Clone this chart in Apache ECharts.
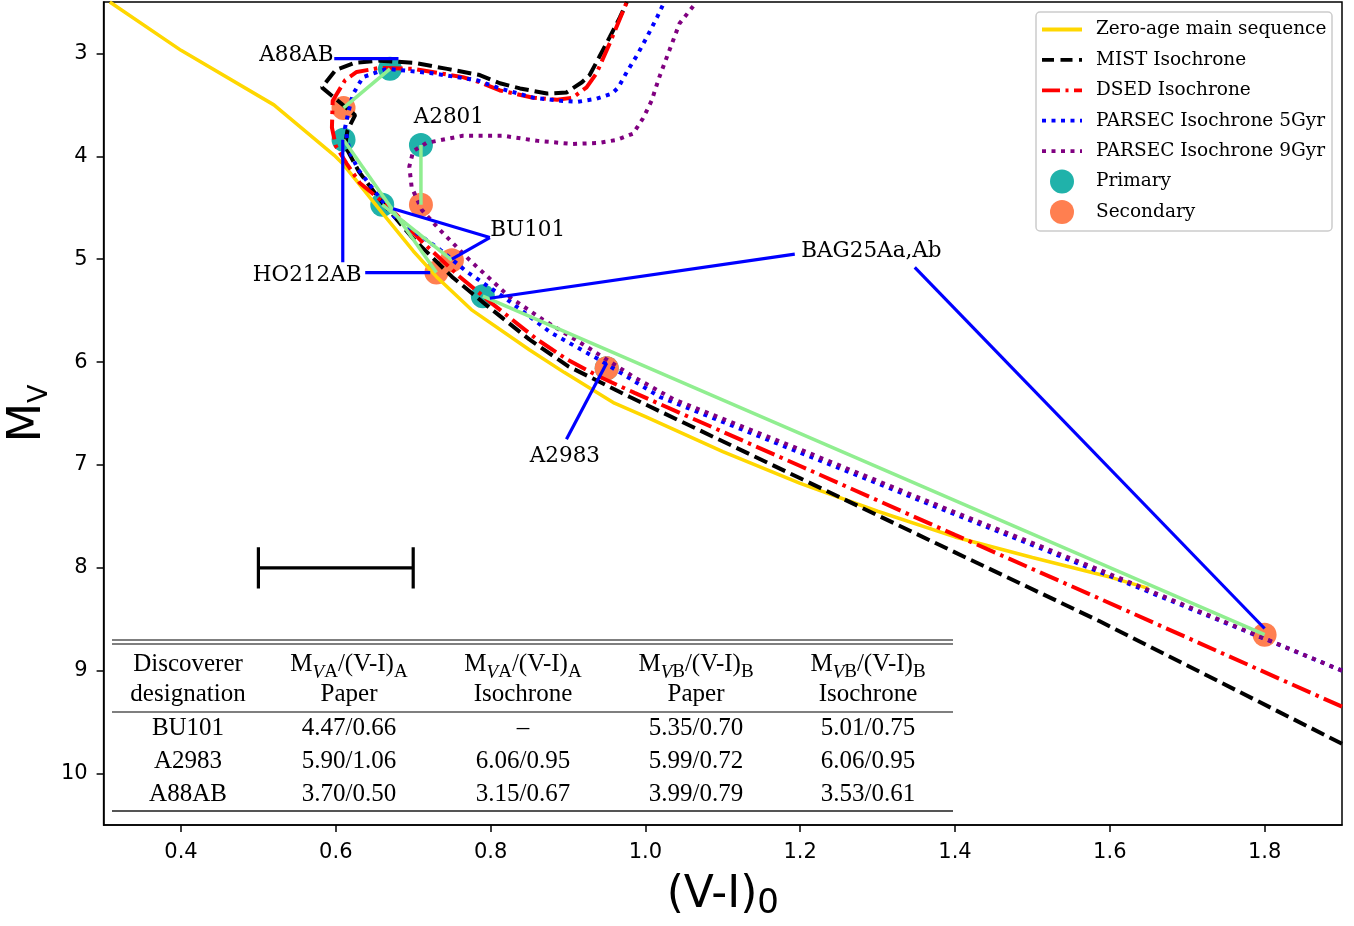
<!DOCTYPE html>
<html><head><meta charset="utf-8">
<script src="https://cdn.jsdelivr.net/npm/echarts@6.0.0/dist/echarts.min.js"></script>
<style>html,body{margin:0;padding:0;background:#fff}#c{width:1354px;height:926px}</style>
</head><body><div id="c"></div><script>
// ---------- data ----------
const xTicks = [0.4, 0.6, 0.8, 1.0, 1.2, 1.4, 1.6, 1.8];
const yTicks = [3, 4, 5, 6, 7, 8, 9, 10];

// binary components (order: A88AB, HO212AB, A2801, BU101, BAG25Aa,Ab, A2983)
const primaryVI   = [0.67, 0.61, 0.71, 0.66, 0.79, 0.95];
const primaryMV   = [3.15, 3.84, 3.89, 4.47, 5.36, 6.06];
const secondaryVI = [0.61, 0.73, 0.71, 0.75, 1.80, 0.95];
const secondaryMV = [3.53, 5.13, 4.47, 5.01, 8.65, 6.06];

const zamsVI = [0.308, 0.40, 0.52, 0.598, 0.61, 0.66, 0.70, 0.73, 0.775, 0.85, 0.895, 0.96, 1.00, 1.10, 1.20, 1.30, 1.40, 1.50, 1.60, 1.65];
const zamsMV = [2.50, 2.97, 3.50, 3.99, 4.08, 4.55, 4.92, 5.17, 5.49, 5.88, 6.10, 6.40, 6.53, 6.87, 7.18, 7.45, 7.70, 7.90, 8.09, 8.20];

const mistVI = [1.90, 1.587, 1.40, 1.20, 0.98, 0.90, 0.85, 0.80, 0.75, 0.70, 0.66, 0.63, 0.612, 0.615, 0.625, 0.582, 0.60, 0.625, 0.657, 0.70, 0.744, 0.786, 0.812, 0.838, 0.873, 0.898, 0.918, 0.928, 0.94, 0.954, 0.967, 0.976];
const mistMV = [9.71, 8.52, 7.85, 7.13, 6.34, 6.04, 5.78, 5.48, 5.17, 4.80, 4.45, 4.15, 3.90, 3.75, 3.60, 3.33, 3.16, 3.09, 3.07, 3.09, 3.15, 3.21, 3.29, 3.34, 3.39, 3.38, 3.28, 3.21, 3.04, 2.84, 2.65, 2.50];

const dsedVI = [1.90, 1.587, 1.40, 1.20, 0.986, 0.94, 0.90, 0.86, 0.80, 0.76, 0.71, 0.67, 0.631, 0.614, 0.60, 0.595, 0.596, 0.612, 0.627, 0.657, 0.70, 0.764, 0.786, 0.812, 0.855, 0.886, 0.906, 0.924, 0.937, 0.954, 0.976];
const dsedMV = [9.35, 8.30, 7.68, 7.01, 6.30, 6.14, 5.98, 5.78, 5.42, 5.17, 4.82, 4.50, 4.26, 4.07, 3.90, 3.72, 3.46, 3.26, 3.18, 3.14, 3.15, 3.23, 3.28, 3.36, 3.43, 3.45, 3.43, 3.33, 3.19, 2.90, 2.50];

const parsec5VI = [1.90, 1.80, 1.587, 1.40, 1.20, 1.019, 0.941, 0.877, 0.821, 0.769, 0.735, 0.676, 0.629, 0.618, 0.612, 0.616, 0.622, 0.635, 0.666, 0.722, 0.782, 0.812, 0.855, 0.89, 0.913, 0.937, 0.957, 0.965, 0.976, 0.989, 1.002, 1.015, 1.025];
const parsec5MV = [9.00, 8.69, 8.04, 7.48, 6.88, 6.34, 5.98, 5.71, 5.39, 5.12, 4.91, 4.59, 4.13, 3.96, 3.72, 3.58, 3.40, 3.23, 3.15, 3.19, 3.26, 3.34, 3.43, 3.46, 3.47, 3.44, 3.39, 3.33, 3.18, 3.02, 2.84, 2.65, 2.49];

const parsec9VI = [1.90, 1.587, 1.40, 1.20, 1.036, 0.984, 0.924, 0.868, 0.825, 0.773, 0.735, 0.711, 0.698, 0.695, 0.70, 0.717, 0.764, 0.816, 0.861, 0.906, 0.94, 0.963, 0.984, 0.997, 1.008, 1.018, 1.031, 1.044, 1.066];
const parsec9MV = [9.00, 8.02, 7.46, 6.85, 6.36, 6.14, 5.85, 5.59, 5.37, 5.01, 4.72, 4.52, 4.30, 4.10, 3.95, 3.87, 3.80, 3.80, 3.85, 3.88, 3.87, 3.84, 3.78, 3.63, 3.46, 3.23, 2.97, 2.71, 2.50];

// annotation labels
const annNames = ['A88AB', 'A2801', 'BU101', 'HO212AB', 'BAG25Aa,Ab', 'A2983'];
const annVI    = [0.549, 0.746, 0.848, 0.563, 1.292, 0.896];
const annMV    = [3.02, 3.62, 4.72, 5.16, 4.92, 6.92];
// annotation leader lines [start, end]
const leaderVI = [[0.598, 0.681], [0.609, 0.609], [0.638, 0.722], [0.799, 0.674], [0.799, 0.75], [1.193, 0.799], [1.348, 1.80], [0.898, 0.95]];
const leaderMV = [[3.05, 3.05], [5.03, 3.84], [5.13, 5.13], [4.79, 4.51], [4.79, 5.00], [4.95, 5.38], [5.08, 8.59], [6.75, 6.01]];

// error bar
const errVI = [0.5, 0.7];
const errMV = 8;
const errCap = [7.8, 8.2];

// table
const tableDesig  = ['BU101', 'A2983', 'A88AB'];
const tablePaperA = ['4.47/0.66', '5.90/1.06', '3.70/0.50'];
const tableIsoA   = ['–', '6.06/0.95', '3.15/0.67'];
const tablePaperB = ['5.35/0.70', '5.99/0.72', '3.99/0.79'];
const tableIsoB   = ['5.01/0.75', '6.06/0.95', '3.53/0.61'];

const legendNames = ['Zero-age main sequence', 'MIST Isochrone', 'DSED Isochrone', 'PARSEC Isochrone 5Gyr', 'PARSEC Isochrone 9Gyr', 'Primary', 'Secondary'];

// ---------- styles ----------
const C = {zams:'#FFD700', mist:'#000000', dsed:'#FF0000', p5:'#0000FF', p9:'#800080', prim:'#20B2AA', sec:'#FF7F50', green:'#90EE90', ann:'#0000FF'};
const DASH = [14, 6], DASHDOT = [20, 5.5, 3.5, 5.5], DOT = [4, 5.5];
const LW = 4;

const pairs = (xs, ys) => xs.map((x, i) => [x, ys[i]]);
const lineSeries = (name, xs, ys, color, type, width, z) => ({
  name, type: 'line', data: pairs(xs, ys), symbol: 'none', showSymbol: false, silent: true,
  lineStyle: {color, width, type, cap: 'butt'}, z, animation: false, emphasis: {disabled: true}
});

const series = [];
series.push({name:'Primary', type:'scatter', data: pairs(primaryVI, primaryMV), symbolSize: 24, itemStyle:{color:C.prim, opacity:1}, z:2, silent:true});
series.push({name:'Secondary', type:'scatter', data: pairs(secondaryVI, secondaryMV), symbolSize: 24, itemStyle:{color:C.sec, opacity:1}, z:2, silent:true});
series.push(lineSeries('Zero-age main sequence', zamsVI, zamsMV, C.zams, 'solid', 3.5, 3));
series.push(lineSeries('MIST Isochrone', mistVI, mistMV, C.mist, DASH, LW, 3));
series.push(lineSeries('DSED Isochrone', dsedVI, dsedMV, C.dsed, DASHDOT, LW, 3));
series.push(lineSeries('PARSEC Isochrone 5Gyr', parsec5VI, parsec5MV, C.p5, DOT, LW, 3));
series.push(lineSeries('PARSEC Isochrone 9Gyr', parsec9VI, parsec9MV, C.p9, DOT, LW, 3));
primaryVI.forEach((x, i) => {
  series.push(lineSeries('pair' + i, [x, secondaryVI[i]], [primaryMV[i], secondaryMV[i]], C.green, 'solid', 3.5, 4));
});
series.push(lineSeries('errbar', errVI, [errMV, errMV], '#000', 'solid', 3.2, 4));
errVI.forEach((x, i) => series.push(lineSeries('errcap' + i, [x, x], errCap, '#000', 'solid', 3.2, 4)));
leaderVI.forEach((xs, i) => series.push(lineSeries('leader' + i, xs, leaderMV[i], C.ann, 'solid', 3.2, 5)));
series.push({
  name: 'labels', type: 'scatter', symbolSize: 1, itemStyle: {color: 'rgba(0,0,0,0)'}, z: 6, silent: true,
  emphasis: {disabled: true},
  data: annNames.map((n, i) => ({name: n, value: [annVI[i], annMV[i]]})),
  label: {show: true, position: [0.5, 0.5], align: 'center', verticalAlign: 'middle', formatter: '{b}',
          fontFamily: 'DejaVu Serif', fontSize: 21.5, color: '#000000', opacity: 1, textBorderWidth: 0}
});

// ---------- graphic: legend + table ----------
const graphic = [];
const legendStyle = [
  {kind:'line', color:C.zams, dash:null},
  {kind:'line', color:C.mist, dash:[12, 6.5]},
  {kind:'line', color:C.dsed, dash:[18, 5.5, 3, 5.5]},
  {kind:'line', color:C.p5, dash:DOT},
  {kind:'line', color:C.p9, dash:DOT},
  {kind:'dot', color:C.prim},
  {kind:'dot', color:C.sec}
];
graphic.push({type:'rect', shape:{x:1036, y:12, width:296, height:219, r:4}, style:{fill:'rgba(255,255,255,0.85)', stroke:'#cccccc', lineWidth:1.5}, z:100});
legendNames.forEach((name, i) => {
  const y = 29.5 + i * 30.4;
  const st = legendStyle[i];
  if (st.kind === 'line') {
    graphic.push({type:'line', shape:{x1:1042, y1:y, x2:1082, y2:y}, style:{stroke:st.color, lineWidth:3.8, lineDash:st.dash || null, lineCap:'butt'}, z:101});
  } else {
    graphic.push({type:'circle', shape:{cx:1062, cy:y, r:12}, style:{fill:st.color}, z:101});
  }
  graphic.push({type:'text', x:1096, y:y, style:{text:name, fontFamily:'DejaVu Serif', fontSize:18.5, fill:'#000', align:'left', verticalAlign:'middle'}, z:101});
});

const TF = 'Liberation Serif';
const TFS = 25;
const richT = {
  m: {fontFamily:TF, fontSize:TFS, lineHeight:36, fill:'#000', color:'#000'},
  s: {fontFamily:TF, fontSize:19, lineHeight:19, verticalAlign:'bottom', fill:'#000', color:'#000'},
  si:{fontFamily:TF, fontSize:19, lineHeight:19, verticalAlign:'bottom', fontStyle:'italic', fill:'#000', color:'#000'}
};
const hdrA = '{m|M}{si|V}{s|A}{m|/(V-I)}{s|A}';
const hdrB = '{m|M}{si|V}{s|B}{m|/(V-I)}{s|B}';
const colX = [188, 349, 523, 696, 868];
const head1 = ['{m|Discoverer}', hdrA, hdrA, hdrB, hdrB];
const head2 = ['designation', 'Paper', 'Isochrone', 'Paper', 'Isochrone'];
const tText = (x, y, text, rich) => ({type:'text', x, y, z:90, style: Object.assign({text, fontFamily:TF, fontSize:TFS, fill:'#000', align:'center', verticalAlign:'middle'}, rich ? {rich} : {})});
head1.forEach((t, i) => graphic.push(tText(colX[i], 664, t, richT)));
head2.forEach((t, i) => graphic.push(tText(colX[i], 694, t)));
const cols = [tableDesig, tablePaperA, tableIsoA, tablePaperB, tableIsoB];
const rowY = [728, 761, 794];
cols.forEach((col, ci) => col.forEach((t, ri) => graphic.push(tText(colX[ci], rowY[ri], t))));
[640, 644, 712].forEach(y => graphic.push({type:'line', z:90, shape:{x1:112, y1:y, x2:953, y2:y}, style:{stroke:'#555', lineWidth:1.4}}));
graphic.push({type:'line', z:90, shape:{x1:112, y1:811, x2:953, y2:811}, style:{stroke:'#555', lineWidth:2}});

// ---------- chart ----------
const chart = echarts.init(document.getElementById('c'), null, {renderer:'canvas'});
const axisCommon = {
  type: 'value',
  splitLine: {show: false},
  axisLine: {show: true, onZero: false, lineStyle: {color: '#000', width: 1.5}},
};
chart.setOption({
  animation: false,
  backgroundColor: '#fff',
  grid: {left: 103.6, right: 12, top: 2, bottom: 101, show: true, borderColor: '#000', borderWidth: 1.5,
         backgroundColor: 'transparent', containLabel: false, outerBoundsMode: 'none'},
  xAxis: Object.assign({}, axisCommon, {
    min: 0.3, max: 1.9,
    axisTick: {show: true, inside: false, length: 7, lineStyle: {color: '#000', width: 1.5}, customValues: xTicks},
    axisLabel: {customValues: xTicks, formatter: v => Number(v).toFixed(1), fontFamily: 'DejaVu Sans', fontSize: 21, color: '#000', margin: 17},
    name: '{n|(V-I)}{s|0}', nameLocation: 'middle', nameGap: 46,
    nameTextStyle: {rich: {
      n: {fontFamily: 'DejaVu Sans', fontSize: 44, lineHeight: 50, color: '#000'},
      s: {fontFamily: 'DejaVu Sans', fontSize: 34, lineHeight: 34, verticalAlign: 'bottom', color: '#000'}
    }}
  }),
  yAxis: Object.assign({}, axisCommon, {
    min: 2.5, max: 10.5, inverse: true,
    axisTick: {show: true, inside: false, length: 7, lineStyle: {color: '#000', width: 1.5}, customValues: yTicks},
    axisLabel: {customValues: yTicks, formatter: v => String(v), fontFamily: 'DejaVu Sans', fontSize: 21, color: '#000', margin: 16},
    name: '{n|M}{s|V}', nameLocation: 'middle', nameGap: 50, nameRotate: 90, nameMoveOverlap: false,
    nameTextStyle: {rich: {
      n: {fontFamily: 'DejaVu Sans', fontSize: 46, lineHeight: 52, color: '#000'},
      s: {fontFamily: 'DejaVu Sans', fontSize: 27, lineHeight: 27, verticalAlign: 'bottom', color: '#000'}
    }}
  }),
  legend: {show: false},
  series,
  graphic
});
</script></body></html>
